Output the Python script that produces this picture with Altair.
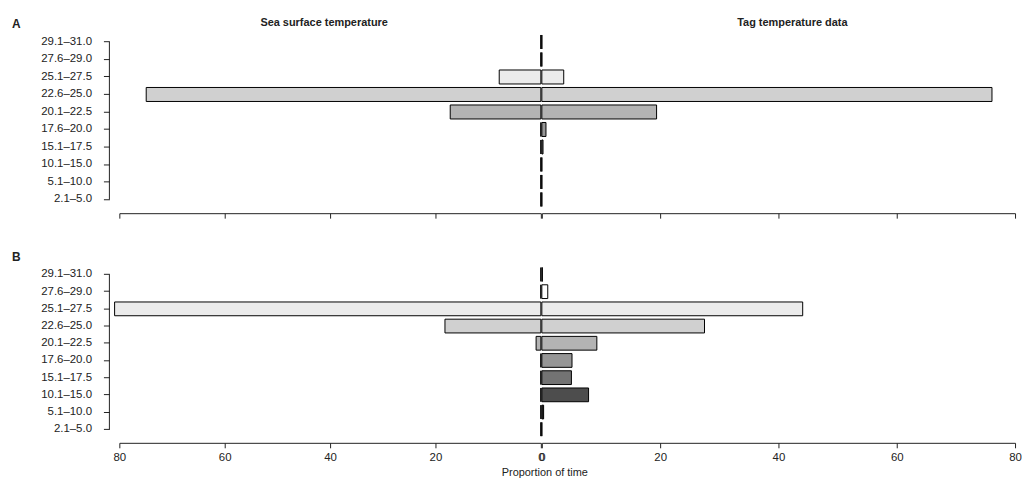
import altair as alt
import pandas as pd

# temperature bins, warm at top
cats = ["29.1–31.0", "27.6–29.0", "25.1–27.5", "22.6–25.0", "20.1–22.5",
        "17.6–20.0", "15.1–17.5", "10.1–15.0", "5.1–10.0", "2.1–5.0"]
fills = ["#ffffff", "#ffffff", "#ebebeb", "#d0d0d0", "#b3b3b3",
         "#969696", "#737373", "#4d4d4d", "#262626", "#0a0a0a"]

# Panel A (proportion of time, %)
sst_a = [0, 0, 7.9, 74.9, 17.2, 0, 0, 0, 0, 0]
tag_a = [0, 0, 3.7, 76.1, 19.4, 0.7, 0.2, 0, 0, 0]
# Panel B
sst_b = [0, 0, 80.9, 18.2, 0.9, 0, 0, 0, 0, 0]
tag_b = [0.1, 1.0, 44.1, 27.5, 9.3, 5.1, 5.0, 7.9, 0.3, 0]

tick_vals = [0, 20, 40, 60, 80]
FONT = "Liberation Sans"
INK = "#222222"
LW, RW = 424, 476


def text_layer(txt, x, y, bold=False, size=11, align="center"):
    return alt.Chart(pd.DataFrame({"t": [txt]})).mark_text(
        align=align, baseline="middle", font=FONT, fontSize=size,
        fontWeight="bold" if bold else "normal", color=INK
    ).encode(text="t:N", x=alt.value(x), y=alt.value(y))


def side(values, left, height, letter, show_labels, extra):
    df = pd.DataFrame({"cat": cats, "value": values, "fill": fills})
    yscale = alt.Scale(domain=cats, paddingInner=0.2, paddingOuter=0.1)
    xaxis = alt.Axis(values=tick_vals, labels=show_labels, title=None, grid=False,
                     offset=5, tickSize=5, labelFlush=False, labelOverlap=False,
                     labelPadding=4, domainColor=INK, tickColor=INK)
    if left:
        yaxis = alt.Axis(title=None, domain=False, offset=10, tickSize=6,
                         labelPadding=12, tickColor=INK)
    else:
        yaxis = None
    bars = alt.Chart(df).mark_bar(stroke="black", strokeWidth=1).encode(
        y=alt.Y("cat:N", scale=yscale, axis=yaxis),
        x=alt.X("value:Q", scale=alt.Scale(domain=[0, 80], reverse=left, nice=False),
                axis=xaxis),
        fill=alt.Fill("fill:N", scale=None),
    )
    layers = [bars]
    if left:
        yline = alt.Chart(pd.DataFrame({"a": [cats[0]], "b": [cats[-1]]})).mark_rule(
            color=INK, strokeWidth=1
        ).encode(x=alt.value(-10), y=alt.Y("a:N", scale=yscale, axis=yaxis), y2="b:N")
        layers.append(yline)
        layers.append(text_layer(letter, -108, -9, bold=True, size=12, align="left"))
    layers += extra
    w = LW if left else RW
    return alt.layer(*layers).properties(width=w, height=height)


hA = 176
hB = 173
leftA = side(sst_a, True, hA, "A", False,
             [text_layer("Sea surface temperature", 206, -10, bold=True)])
rightA = side(tag_a, False, hA, "A", False,
              [text_layer("Tag temperature data", 252, -10, bold=True)])
leftB = side(sst_b, True, hB, "B", True, [])
rightB = side(tag_b, False, hB, "B", True,
              [text_layer("Proportion of time", 3, hB + 35)])

chart = alt.concat(
    leftA, rightA, leftB, rightB, columns=2, bounds="flush",
    spacing={"row": 58, "column": 1}
).resolve_scale(
    x="independent", y="independent"
).properties(
    padding={"left": 4, "top": 8, "right": 0, "bottom": 0}
).configure_view(stroke=None).configure_axis(
    labelFont=FONT, labelFontSize=11.5, labelColor=INK, domainWidth=1, tickWidth=1
)

chart.save("out.html", embed_options={"renderer": "svg", "actions": False})
